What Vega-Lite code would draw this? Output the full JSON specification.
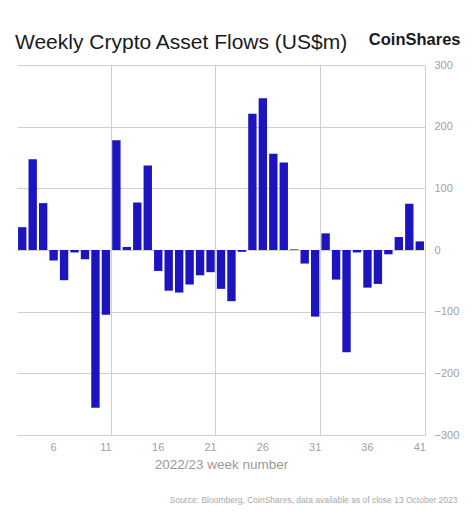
{
  "$schema": "https://vega.github.io/schema/vega-lite/v6.json",
  "width": 408,
  "height": 370,
  "autosize": "none",
  "padding": {"left": 17, "top": 65, "right": 49, "bottom": 84},
  "background": "white",
  "title": {
    "text": "Weekly Crypto Asset Flows (US$m)",
    "anchor": "start",
    "frame": "group",
    "font": "Liberation Sans",
    "fontSize": 21,
    "fontWeight": "normal",
    "color": "#1a1a1a",
    "offset": -22,
    "dx": -2
  },
  "data": {
    "values": [
      {"week": 3, "flow": 37},
      {"week": 4, "flow": 147},
      {"week": 5, "flow": 76},
      {"week": 6, "flow": -17},
      {"week": 7, "flow": -49},
      {"week": 8, "flow": -4},
      {"week": 9, "flow": -15},
      {"week": 10, "flow": -256},
      {"week": 11, "flow": -105},
      {"week": 12, "flow": 178},
      {"week": 13, "flow": 5},
      {"week": 14, "flow": 77},
      {"week": 15, "flow": 137},
      {"week": 16, "flow": -34},
      {"week": 17, "flow": -66},
      {"week": 18, "flow": -69},
      {"week": 19, "flow": -56},
      {"week": 20, "flow": -41},
      {"week": 21, "flow": -36},
      {"week": 22, "flow": -63},
      {"week": 23, "flow": -83},
      {"week": 24, "flow": -3},
      {"week": 25, "flow": 221},
      {"week": 26, "flow": 246},
      {"week": 27, "flow": 156},
      {"week": 28, "flow": 142},
      {"week": 29, "flow": 1},
      {"week": 30, "flow": -22},
      {"week": 31, "flow": -108},
      {"week": 32, "flow": 27},
      {"week": 33, "flow": -48},
      {"week": 34, "flow": -166},
      {"week": 35, "flow": -4},
      {"week": 36, "flow": -61},
      {"week": 37, "flow": -55},
      {"week": 38, "flow": -7},
      {"week": 39, "flow": 21},
      {"week": 40, "flow": 75},
      {"week": 41, "flow": 14}
    ]
  },
  "layer": [
    {
      "mark": {"type": "bar", "color": "#1c14bf", "width": {"band": 0.8}},
      "encoding": {
        "x": {
          "field": "week",
          "type": "ordinal",
          "sort": "ascending",
          "scale": {"paddingInner": 0, "paddingOuter": 0},
          "axis": {
            "values": [6, 11, 16, 21, 26, 31, 36, 41],
            "labelAngle": 0,
            "bandPosition": 1,
            "ticks": false,
            "domain": false,
            "grid": true,
            "gridColor": {
              "condition": {"test": "datum.value % 10 == 1", "value": "#cfcfcf"},
              "value": "transparent"
            },
            "labelFont": "Liberation Sans",
            "labelFontSize": 11,
            "labelColor": "#a0a0a0",
            "labelPadding": 6,
            "title": "2022/23 week number",
            "titleFont": "Liberation Sans",
            "titleFontSize": 13.5,
            "titleFontWeight": "normal",
            "titleColor": "#9a9a9a",
            "titlePadding": 5
          }
        },
        "y": {
          "field": "flow",
          "type": "quantitative",
          "scale": {"domain": [-300, 300], "nice": false},
          "axis": {
            "orient": "right",
            "values": [-300, -200, -100, 0, 100, 200, 300],
            "ticks": false,
            "domain": false,
            "grid": true,
            "gridColor": "#cfcfcf",
            "labelFont": "Liberation Sans",
            "labelFontSize": 11,
            "labelColor": "#a0a0a0",
            "labelPadding": 9,
            "title": "CoinShares",
            "titleAngle": 0,
            "titleAlign": "right",
            "titleBaseline": "alphabetic",
            "titleX": 35,
            "titleY": -21,
            "titleFont": "Liberation Sans",
            "titleFontSize": 16.5,
            "titleFontWeight": "bold",
            "titleColor": "#1a1a1a"
          }
        }
      }
    },
    {
      "mark": {"type": "text"},
      "encoding": {
        "x": {
          "field": "week",
          "type": "ordinal",
          "axis": {
            "orient": "bottom",
            "labels": false,
            "ticks": false,
            "domain": false,
            "grid": false,
            "title": "Source: Bloomberg, CoinShares, data available as of close 13 October 2023",
            "titleAnchor": "end",
            "titleAlign": "right",
            "titleBaseline": "alphabetic",
            "titleX": 440,
            "titleY": 67,
            "titleFont": "Liberation Sans",
            "titleFontSize": 8.5,
            "titleFontWeight": "normal",
            "titleColor": "#a8a8a8"
          }
        },
        "text": {"value": ""}
      }
    }
  ],
  "resolve": {"axis": {"x": "independent"}},
  "config": {"view": {"stroke": null}}
}
